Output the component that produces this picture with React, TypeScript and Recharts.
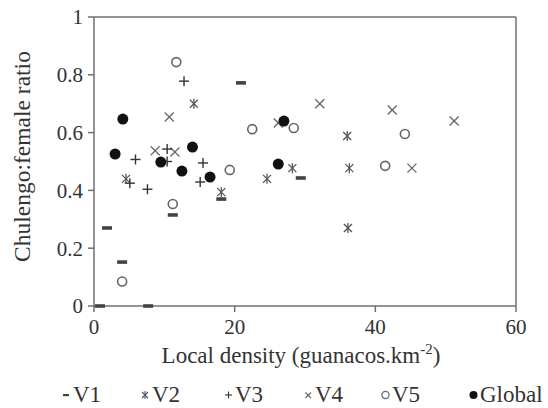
import { ScatterChart, Scatter, XAxis, YAxis, ReferenceLine, Label } from 'recharts';

// Chulengo:female ratio vs local density, per visit (V1..V5) and overall
const v1X = [0.85, 1.85, 4.0, 7.7, 11.2, 18.1, 20.9, 29.4];
const v1Y = [0, 0.27, 0.152, 0, 0.315, 0.37, 0.772, 0.443];
const v2X = [4.55, 14.2, 18.1, 24.6, 28.2, 36.0, 36.3, 36.1];
const v2Y = [0.44, 0.7, 0.394, 0.44, 0.477, 0.588, 0.477, 0.27];
const v3X = [5.9, 5.1, 7.6, 10.4, 10.4, 12.8, 15.1, 15.5];
const v3Y = [0.507, 0.425, 0.404, 0.543, 0.5, 0.778, 0.429, 0.495];
const v4X = [8.7, 10.7, 11.5, 26.2, 32.1, 42.4, 45.2, 51.2];
const v4Y = [0.537, 0.654, 0.533, 0.633, 0.7, 0.678, 0.477, 0.64];
const v5X = [4.0, 11.2, 11.7, 19.3, 22.5, 28.4, 41.4, 44.2];
const v5Y = [0.085, 0.353, 0.844, 0.471, 0.612, 0.616, 0.485, 0.595];
const globalX = [3.0, 4.1, 9.5, 12.5, 14.0, 16.5, 26.2, 27.0];
const globalY = [0.526, 0.647, 0.498, 0.467, 0.55, 0.446, 0.491, 0.64];

const xTicks = [0, 20, 40, 60];
const yTicks = [0, 0.2, 0.4, 0.6, 0.8, 1];

const toPoints = (xs: number[], ys: number[]) => xs.map((x, i) => ({ x, y: ys[i] }));

const FONT = 'Liberation Serif, DejaVu Serif, serif';
const AXIS = '#707070';

// marker shapes
const Dash = ({ cx, cy }: any) => <rect x={cx - 5} y={cy - 1.8} width={10} height={3.6} fill="#444" />;
const Star = ({ cx, cy }: any) => (
  <g stroke="#555" strokeWidth={1.3}>
    <line x1={cx - 4} y1={cy - 4} x2={cx + 4} y2={cy + 4} />
    <line x1={cx - 4} y1={cy + 4} x2={cx + 4} y2={cy - 4} />
    <line x1={cx} y1={cy - 5} x2={cx} y2={cy + 5} />
  </g>
);
const Plus = ({ cx, cy }: any) => (
  <g stroke="#333" strokeWidth={1.4}>
    <line x1={cx - 5} y1={cy} x2={cx + 5} y2={cy} />
    <line x1={cx} y1={cy - 5} x2={cx} y2={cy + 5} />
  </g>
);
const Cross = ({ cx, cy }: any) => (
  <g stroke="#666" strokeWidth={1.3}>
    <line x1={cx - 4.5} y1={cy - 4.5} x2={cx + 4.5} y2={cy + 4.5} />
    <line x1={cx - 4.5} y1={cy + 4.5} x2={cx + 4.5} y2={cy - 4.5} />
  </g>
);
const Ring = ({ cx, cy }: any) => <circle cx={cx} cy={cy} r={4.5} fill="none" stroke="#666" strokeWidth={1.6} />;
const Dot = ({ cx, cy }: any) => <circle cx={cx} cy={cy} r={5.5} fill="#111" />;

// legend entries with their left offsets (icon, text) in the strip under the chart
const legendItems = [
  { name: 'V1', left: 62, icon: <rect x={1} y={7} width={6} height={2.2} fill="#444" /> },
  {
    name: 'V2',
    left: 141,
    icon: (
      <g stroke="#555" strokeWidth={1.1}>
        <line x1={1} y1={5} x2={7} y2={11} />
        <line x1={1} y1={11} x2={7} y2={5} />
        <line x1={4} y1={4} x2={4} y2={12} />
      </g>
    ),
  },
  {
    name: 'V3',
    left: 224,
    icon: (
      <g stroke="#333" strokeWidth={1.1}>
        <line x1={1} y1={8} x2={8} y2={8} />
        <line x1={4.5} y1={4.5} x2={4.5} y2={11.5} />
      </g>
    ),
  },
  {
    name: 'V4',
    left: 304,
    icon: (
      <g stroke="#666" strokeWidth={1.1}>
        <line x1={1.5} y1={5.5} x2={7} y2={11} />
        <line x1={1.5} y1={11} x2={7} y2={5.5} />
      </g>
    ),
  },
  { name: 'V5', left: 381, icon: <circle cx={4.5} cy={8} r={3.6} fill="none" stroke="#666" strokeWidth={1.2} /> },
  { name: 'Global', left: 469, icon: <circle cx={4.5} cy={8} r={4} fill="#111" /> },
];

const YTitle = ({ viewBox }: any) => {
  const cx = viewBox.x + 22;
  const cy = viewBox.y + viewBox.height / 2 - 5;
  return (
    <text x={cx} y={cy} transform={`rotate(-90, ${cx}, ${cy})`} textAnchor="middle" dominantBaseline="central"
      fontFamily={FONT} fontSize={23.5} fill="#333">
      Chulengo:female ratio
    </text>
  );
};

const XTitle = ({ viewBox }: any) => {
  const cx = viewBox.x + viewBox.width / 2 - 4;
  return (
    <text x={cx} y={363} textAnchor="middle" fontFamily={FONT} fontSize={23} fill="#333">
      Local density (guanacos.km
      <tspan fontSize={15} dy={-9}>-2</tspan>
      <tspan dy={9}>)</tspan>
    </text>
  );
};

export default function App() {
  return (
    <div style={{ position: 'absolute', left: 0, top: 0, width: 548, height: 408, background: '#fff', fontFamily: FONT }}>
      <ScatterChart width={548} height={408} margin={{ top: 17, right: 32, left: 0, bottom: 0 }}>
        <XAxis
          type="number"
          dataKey="x"
          domain={[0, 60]}
          ticks={xTicks}
          height={102}
          stroke={AXIS}
          strokeWidth={1.5}
          tickSize={6}
          tickMargin={7}
          tick={{ fill: '#333', fontSize: 21, fontFamily: FONT }}
        >
          <Label content={<XTitle />} />
        </XAxis>
        <YAxis
          type="number"
          dataKey="y"
          domain={[0, 1]}
          ticks={yTicks}
          width={94}
          stroke={AXIS}
          strokeWidth={1.5}
          tickSize={6}
          tickMargin={5}
          tick={{ fill: '#333', fontSize: 21, fontFamily: FONT }}
        >
          <Label content={<YTitle />} />
        </YAxis>
        <ReferenceLine y={1} stroke={AXIS} strokeWidth={1.5} />
        <ReferenceLine x={60} stroke={AXIS} strokeWidth={1.5} />
        <Scatter name="V5" data={toPoints(v5X, v5Y)} shape={<Ring />} isAnimationActive={false} />
        <Scatter name="V4" data={toPoints(v4X, v4Y)} shape={<Cross />} isAnimationActive={false} />
        <Scatter name="V1" data={toPoints(v1X, v1Y)} shape={<Dash />} isAnimationActive={false} />
        <Scatter name="V2" data={toPoints(v2X, v2Y)} shape={<Star />} isAnimationActive={false} />
        <Scatter name="V3" data={toPoints(v3X, v3Y)} shape={<Plus />} isAnimationActive={false} />
        <Scatter name="Global" data={toPoints(globalX, globalY)} shape={<Dot />} isAnimationActive={false} />
      </ScatterChart>
      {legendItems.map((item) => (
        <div key={item.name} style={{ position: 'absolute', left: item.left, top: 382, display: 'flex', alignItems: 'center', fontSize: 23, color: '#333', lineHeight: '26px', whiteSpace: 'nowrap' }}>
          <svg width={9} height={16} style={{ marginRight: 2 }}>{item.icon}</svg>
          <span>{item.name}</span>
        </div>
      ))}
    </div>
  );
}
